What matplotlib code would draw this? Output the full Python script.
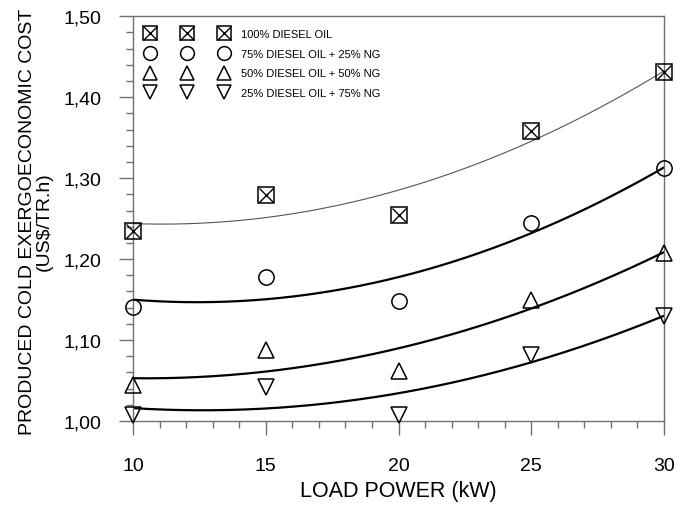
import matplotlib
matplotlib.use("Agg")
import matplotlib.pyplot as plt
import numpy as np
from matplotlib.legend_handler import HandlerTuple
from matplotlib.ticker import FuncFormatter, MultipleLocator

plt.rcParams['font.family'] = ['Liberation Sans', 'DejaVu Sans']

load_power = [10, 15, 20, 25, 30]
diesel_100 = [1.235, 1.279, 1.255, 1.358, 1.431]
diesel_75 = [1.141, 1.178, 1.148, 1.244, 1.312]
diesel_50 = [1.044, 1.088, 1.062, 1.149, 1.208]
diesel_25 = [1.007, 1.042, 1.008, 1.081, 1.130]

labels = ["100% DIESEL OIL",
          "75% DIESEL OIL + 25% NG",
          "50% DIESEL OIL + 50% NG",
          "25% DIESEL OIL + 75% NG"]

axis_grey = "#707070"

fig = plt.figure(figsize=(6.76, 5.06), dpi=100)
ax = fig.add_axes([0.197, 0.166, 0.785, 0.80])

x = np.array(load_power)
xs = np.linspace(10, 30, 200)

# quadratic trend lines through each series
series = [diesel_100, diesel_75, diesel_50, diesel_25]
line_styles = [dict(color="#555555", lw=0.8),
               dict(color="black", lw=1.6),
               dict(color="black", lw=1.6),
               dict(color="black", lw=1.6)]
for ys, st in zip(series, line_styles):
    coef = np.polyfit(x, ys, 2)
    ax.plot(xs, np.polyval(coef, xs), zorder=2, **st)

mk = dict(linestyle="none", markersize=11, markerfacecolor="none",
          markeredgecolor="black", markeredgewidth=1.1, zorder=3, clip_on=False)

sq, = ax.plot(x, diesel_100, marker="s", **mk)
sx, = ax.plot(x, diesel_100, marker="x", **dict(mk, markersize=10.5, markeredgewidth=1.0))
circ, = ax.plot(x, diesel_75, marker="o", **mk)
up, = ax.plot(x, diesel_50, marker="^", **mk)
down, = ax.plot(x, diesel_25, marker="v", **mk)

leg = ax.legend([(sq, sx), circ, up, down], labels,
                handler_map={tuple: HandlerTuple(ndivide=1)},
                numpoints=3, markerscale=0.9, handlelength=7.2, handletextpad=1.3,
                labelspacing=0.87, fontsize=8, frameon=False,
                loc="upper left", bbox_to_anchor=(0.026, 0.968),
                borderpad=0, borderaxespad=0)

ax.set_xlim(10, 30)
ax.set_ylim(1.0, 1.5)
ax.xaxis.set_major_locator(MultipleLocator(5))
ax.xaxis.set_minor_locator(MultipleLocator(1))
ax.yaxis.set_major_locator(MultipleLocator(0.1))
ax.yaxis.set_minor_locator(MultipleLocator(0.02))
ax.yaxis.set_major_formatter(FuncFormatter(lambda v, p: f"{v:.2f}".replace(".", ",")))

ax.tick_params(axis="both", which="major", direction="out", length=10,
               width=1, color=axis_grey, labelsize=14)
ax.tick_params(axis="x", which="major", pad=16)
ax.tick_params(axis="y", which="major", pad=13)
ax.tick_params(axis="both", which="minor", direction="out", length=5,
               width=1, color=axis_grey)

for s in ax.spines.values():
    s.set_color(axis_grey)
    s.set_linewidth(1.0)

ax.set_xlabel("LOAD POWER (kW)", fontsize=15.5, labelpad=4)
ax.set_ylabel("PRODUCED COLD EXERGOECONOMIC COST\n(US\\$/TR.h)", fontsize=14,
              linespacing=1.0)
ax.yaxis.set_label_coords(-0.152, 0.495)

fig.savefig("out.png", dpi=100)
